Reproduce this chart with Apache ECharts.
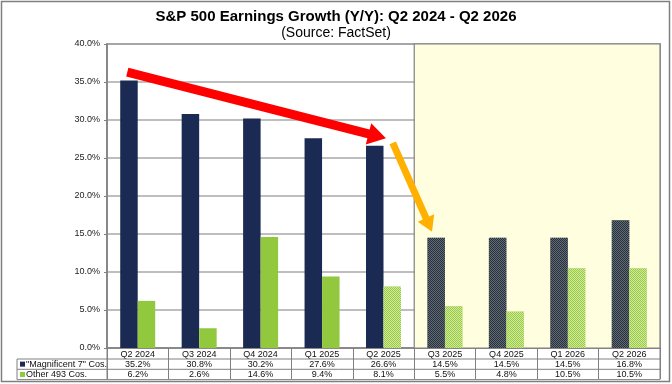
<!DOCTYPE html>
<html><head><meta charset="utf-8">
<script src="https://cdn.jsdelivr.net/npm/echarts@6/dist/echarts.min.js"></script>
<style>html,body{margin:0;padding:0;background:#fff}#c{width:672px;height:384px}</style>
</head><body><div id="c"></div>
<script>
const titleText = 'S&P 500 Earnings Growth (Y/Y): Q2 2024 - Q2 2026';
const subtitleText = '(Source: FactSet)';
const categories = ['Q2 2024','Q3 2024','Q4 2024','Q1 2025','Q2 2025','Q3 2025','Q4 2025','Q1 2026','Q2 2026'];
const mag7 = [35.2, 30.8, 30.2, 27.6, 26.6, 14.5, 14.5, 14.5, 16.8];
const other493 = [6.2, 2.6, 14.6, 9.4, 8.1, 5.5, 4.8, 10.5, 10.5];
const mag7Estimated = [false, false, false, false, false, true, true, true, true];
const otherEstimated = [false, false, false, false, true, true, true, true, true];
const seriesNames = ['"Magnificent 7" Cos.', 'Other 493 Cos.'];
const yMin = 0, yMax = 40, yInterval = 5;
const shadedFrom = 'Q3 2025', shadedTo = 'Q2 2026';
// arrows in data coordinates: [category index, value]
const redArrow = [[-0.17, 36.3], [4.04, 27.6]];
const orangeArrow = [[4.15, 27.0], [4.79, 15.3]];

const FONT = '"Liberation Sans", Arial, sans-serif';
const NAVY = '#1b2a52', GREEN = '#92c83e';
const GRID = {left: 107, right: 12, top: 44, bottom: 36};
const ROW = 10.3;

function decalNavy() {
  return {symbol: 'rect', symbolSize: 1, color: 'rgba(100,110,120,0.95)',
    dashArrayX: [[1, 1], [0, 1, 1, 0]], dashArrayY: [1, 0]};
}
function decalGreen() {
  return {symbol: 'rect', symbolSize: 1, color: 'rgba(215,236,170,0.9)',
    dashArrayX: [[1, 1], [0, 1, 1, 0]], dashArrayY: [1, 0]};
}

const chart = echarts.init(document.getElementById('c'), null, {renderer: 'canvas'});
chart.setOption({
  animation: false,
  textStyle: {fontFamily: FONT},
  title: [
    {text: titleText, left: 'center', top: 4, textStyle: {fontFamily: FONT, fontSize: 15, fontWeight: 'bold', color: '#000'}},
    {text: subtitleText, left: 'center', top: 21, textStyle: {fontFamily: FONT, fontSize: 14, fontWeight: 'normal', color: '#000'}}
  ],
  grid: {left: GRID.left, right: GRID.right, top: GRID.top, bottom: GRID.bottom,
    show: true, backgroundColor: '#fff', borderColor: '#808080', borderWidth: 1.5},
  xAxis: {
    type: 'category', data: categories,
    axisLine: {lineStyle: {color: '#808080', width: 1.5}},
    axisTick: {show: true, length: 31, lineStyle: {color: '#808080', width: 1}},
    axisLabel: {
      interval: 0, margin: 1, color: '#111',
      formatter: function (v, i) {
        return '{a|' + v + '}\n{a|' + mag7[i].toFixed(1) + '%}\n{a|' + other493[i].toFixed(1) + '%}';
      },
      rich: {a: {fontFamily: FONT, fontSize: 9, lineHeight: ROW, color: '#111'}}
    }
  },
  yAxis: {
    type: 'value', min: yMin, max: yMax, interval: yInterval,
    axisLine: {show: true, lineStyle: {color: '#808080', width: 1.5}},
    axisTick: {show: true, length: 3, lineStyle: {color: '#808080'}},
    splitLine: {lineStyle: {color: '#a8a8a8', width: 1.5}},
    axisLabel: {fontFamily: FONT, fontSize: 9, color: '#222', margin: 7,
      formatter: v => v.toFixed(1) + '%'}
  },
  series: [
    {
      name: seriesNames[0], type: 'bar', barWidth: 17.5, barGap: '0%',
      itemStyle: {color: NAVY},
      data: mag7.map((v, i) => mag7Estimated[i]
        ? {value: v, itemStyle: {color: '#27313c', decal: decalNavy()}}
        : {value: v}),
      markArea: {
        silent: true,
        itemStyle: {color: '#ffffe0', borderColor: '#808080', borderWidth: 1.2},
        data: [[{xAxis: shadedFrom}, {xAxis: shadedTo}]]
      },
      z: 3
    },
    {
      name: seriesNames[1], type: 'bar', barWidth: 17.5, barGap: '0%',
      itemStyle: {color: GREEN},
      data: other493.map((v, i) => otherEstimated[i]
        ? {value: v, itemStyle: {color: '#9acb44', decal: decalGreen()}}
        : {value: v}),
      z: 3
    }
  ]
});

function px(p) {
  const x0 = chart.convertToPixel({xAxisIndex: 0}, 0);
  const x1 = chart.convertToPixel({xAxisIndex: 0}, 1);
  const x = x0 + (x1 - x0) * p[0];
  const y = chart.convertToPixel({yAxisIndex: 0}, p[1]);
  return [x, y];
}
function arrowPoly(a, b, w, hw, hl) {
  const dx = b[0] - a[0], dy = b[1] - a[1];
  const L = Math.sqrt(dx * dx + dy * dy);
  const ux = dx / L, uy = dy / L, nx = -uy, ny = ux;
  const bx = b[0] - ux * hl, by = b[1] - uy * hl;
  return [
    [a[0] + nx * w / 2, a[1] + ny * w / 2],
    [bx + nx * w / 2, by + ny * w / 2],
    [bx + nx * hw / 2, by + ny * hw / 2],
    [b[0], b[1]],
    [bx - nx * hw / 2, by - ny * hw / 2],
    [bx - nx * w / 2, by - ny * w / 2],
    [a[0] - nx * w / 2, a[1] - ny * w / 2]
  ];
}

const W = 672, H = 384;
const plotR = W - GRID.right, plotB = H - GRID.bottom;
const tableL = 17;
const r1 = plotB + ROW + 0.7, r2 = r1 + ROW, r3 = r2 + ROW;
const g = [];
g.push({type: 'rect', shape: {x: 1.5, y: 1.5, width: W - 4, height: H - 4},
  style: {fill: null, stroke: '#7f7f7f', lineWidth: 1.5}, z: 0});
[r1, r2, r3].forEach(y => g.push({type: 'line', shape: {x1: tableL, y1: y, x2: plotR, y2: y},
  style: {stroke: '#808080', lineWidth: 1}, z: 5}));
g.push({type: 'line', shape: {x1: tableL, y1: r1, x2: tableL, y2: r3}, style: {stroke: '#808080', lineWidth: 1}, z: 5});
g.push({type: 'line', shape: {x1: GRID.left, y1: plotB, x2: GRID.left, y2: r3}, style: {stroke: '#808080', lineWidth: 1}, z: 5});
g.push({type: 'line', shape: {x1: plotR, y1: plotB, x2: plotR, y2: r3}, style: {stroke: '#808080', lineWidth: 1}, z: 5});
[[NAVY, seriesNames[0]], [GREEN, seriesNames[1]]].forEach((it, i) => {
  const cy = r1 + ROW * (i + 0.5);
  g.push({type: 'rect', shape: {x: tableL + 3, y: cy - 2.5, width: 5, height: 5}, style: {fill: it[0]}, z: 6});
  g.push({type: 'text', x: tableL + 9, y: cy, style: {text: it[1], fontFamily: FONT, fontSize: 9,
    fill: '#111', textVerticalAlign: 'middle', verticalAlign: 'middle'}, z: 6});
});
g.push({type: 'polygon', shape: {points: arrowPoly(px(redArrow[0]), px(redArrow[1]), 9, 22, 18)},
  style: {fill: '#ff0000'}, z: 10});
g.push({type: 'polygon', shape: {points: arrowPoly(px(orangeArrow[0]), px(orangeArrow[1]), 7, 18, 15)},
  style: {fill: '#ffb000'}, z: 10});
chart.setOption({graphic: g});
</script></body></html>
